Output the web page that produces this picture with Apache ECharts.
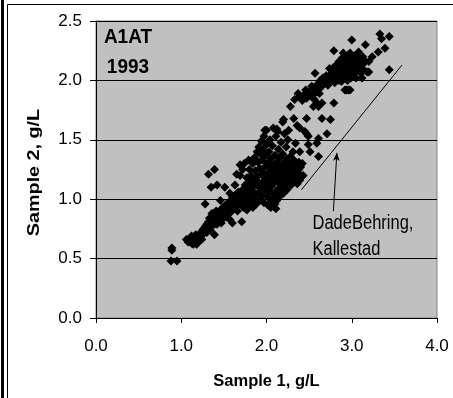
<!DOCTYPE html>
<html>
<head>
<meta charset="utf-8">
<script src="https://cdn.jsdelivr.net/npm/echarts@6/dist/echarts.min.js"></script>
<style>
html,body{margin:0;padding:0;background:#fff;}
#c{width:453px;height:398px;}
</style>
</head>
<body>
<div id="c"></div>
<script>
// Sample 1 vs Sample 2 (g/L), grouped by region of the cloud
const lowTail = [[0.89,0.59],[0.89,0.57],[0.88,0.48],[0.95,0.48],
[1.06,0.66],[1.08,0.64],[1.10,0.67],[1.12,0.63],[1.14,0.62],[1.15,0.68],[1.16,0.65],[1.18,0.66],[1.18,0.62],[1.20,0.64],[1.21,0.68],[1.22,0.71],[1.23,0.67],[1.24,0.73],[1.25,0.70],[1.26,0.75],[1.27,0.72],[1.28,0.77],[1.29,0.74],[1.28,0.96],
[1.12,0.69],[1.17,0.70],[1.24,0.66]];
const band = [[1.30,0.79],[1.31,0.76],[1.32,0.81],[1.33,0.78],[1.33,0.84],[1.34,0.80],[1.35,0.77],[1.36,0.83],[1.37,0.86],[1.38,0.81],[1.38,0.88],[1.39,0.79],[1.40,0.84],[1.39,0.70],[1.41,0.90],[1.42,0.86],[1.43,0.82],[1.44,0.88],[1.45,0.85],[1.46,0.91],[1.47,0.87],[1.48,0.83],[1.49,0.93],[1.50,0.89],[1.51,0.86],[1.52,0.95],[1.53,0.91],[1.54,0.88],[1.55,0.97],[1.56,0.93],[1.57,0.83],[1.58,0.99],[1.59,0.95],[1.60,1.02],[1.61,0.92],[1.62,1.00],[1.63,0.97],[1.64,1.04],[1.65,0.99],[1.66,0.95],[1.67,1.06],[1.68,1.01],[1.69,0.98],[1.71,0.81],[1.60,0.80],
[1.30,0.72],[1.34,0.74],[1.36,0.88],[1.42,0.79],[1.47,0.80],[1.53,0.85],[1.58,0.89],[1.62,0.94],[1.66,0.90],
[1.32,1.21],[1.39,1.25],[1.35,1.10],[1.42,1.12],[1.51,1.10],[1.46,0.99],[1.57,1.05],[1.63,1.12],[1.65,1.21],[1.69,1.20],[1.69,1.29],[1.74,1.30],[1.79,1.33],[1.72,1.25]];
const midLeft = [[1.70,1.03],[1.71,0.97],[1.72,1.08],[1.73,0.93],[1.74,1.01],[1.75,1.12],[1.75,0.96],[1.76,1.05],[1.77,0.91],[1.77,1.18],[1.78,1.00],[1.79,1.09],[1.79,0.94],[1.80,1.14],[1.80,1.25],[1.81,1.03],[1.82,0.97],[1.82,1.20],[1.83,1.10],[1.84,1.30],[1.84,0.93],[1.85,1.06],[1.85,1.16],[1.86,1.35],[1.86,1.00],[1.87,1.24],[1.88,1.12],[1.88,0.96],[1.89,1.40],[1.89,1.19],[1.90,1.05],[1.90,1.31],[1.91,1.44],[1.91,1.14],[1.92,0.99],[1.92,1.26],[1.93,1.38],[1.93,1.09],[1.94,1.49],[1.94,1.21],[1.95,1.03],[1.95,1.33],[1.96,1.15],[1.96,1.42],[1.97,1.53],[1.97,0.97],[1.98,1.27],[1.98,1.08],[1.99,1.37],[1.99,1.18],[1.98,1.58],
[1.88,1.04],[1.95,1.10],[1.96,1.22]];
const midCloud = [[2.00,1.58],[2.00,1.46],[2.00,1.12],[2.01,1.02],[2.01,1.30],[2.02,1.22],[2.02,0.95],[2.03,1.40],[2.03,1.16],[2.04,1.50],[2.04,1.07],[2.05,1.26],[2.05,1.34],[2.06,1.11],[2.06,0.99],[2.07,1.20],[2.07,1.45],[2.08,1.60],[2.08,1.29],[2.09,1.04],[2.09,1.14],[2.10,1.37],[2.10,1.23],[2.11,0.92],[2.11,1.53],[2.12,1.17],[2.12,1.31],[2.13,1.08],[2.13,1.57],[2.14,1.25],[2.14,1.42],[2.15,1.13],[2.15,1.02],[2.16,1.35],[2.16,1.20],[2.17,1.48],[2.17,1.28],[2.18,1.10],[2.18,1.16],[2.19,1.65],[2.19,1.38],[2.20,1.23],[2.20,1.05],[2.21,1.31],[2.21,1.55],[2.22,1.18],[2.22,1.12],[2.23,1.27],[2.23,1.44],[2.24,1.34],[2.24,1.08],[2.25,1.21],[2.25,1.50],[2.26,1.15],[2.26,1.30],[2.27,1.25],[2.28,1.19],[2.28,1.36],[2.29,1.12],[2.30,1.28],[2.30,1.22],[2.31,1.40],[2.32,1.15],[2.32,1.33],[2.33,1.24],[2.34,1.18],[2.35,1.29],[2.36,1.13],[2.37,1.22],[2.38,1.31],[2.39,1.16],[2.40,1.27],[2.42,1.30],[2.43,1.20],[2.12,0.99],[2.05,0.93],[2.10,0.96],
[2.02,1.06],[2.08,1.00],[2.14,1.06],[2.18,1.22],[2.22,1.24],[2.27,1.33],[2.30,1.18],[2.35,1.22],[2.38,1.25],[2.04,1.18],[2.10,1.28]];
const between = [[2.20,1.67],[2.32,1.68],[2.36,1.62],[2.26,1.58],[2.45,1.57],[2.47,1.68],[2.49,1.53],[2.39,1.60],[2.34,1.47],[2.39,1.40],[2.49,1.46],[2.51,1.40],[2.47,1.55],[2.59,1.47],[2.61,1.51],[2.61,1.36],[2.65,1.68],[2.71,1.55],[2.75,1.67],[2.79,1.81],[2.55,1.78],[2.61,1.78],[2.59,1.81],[2.65,1.81],[2.12,1.59],[2.28,1.78]];
const upperBranch = [[2.33,1.84],[2.37,1.89],[2.39,1.86],[2.42,1.83],[2.44,1.88],[2.47,1.85],[2.50,1.90],[2.52,1.87],[2.55,1.88],[2.57,2.06],[2.58,1.92],[2.60,1.97],[2.62,1.93],[2.63,2.00],[2.65,1.95],[2.66,2.02],[2.68,1.98],[2.70,2.04],[2.72,1.96],[2.73,2.01],
[2.46,1.92],[2.53,1.95],[2.56,1.84],[2.62,1.89],[2.70,1.99],[2.74,2.10]];
const topCluster = [[2.75,2.05],[2.76,2.00],[2.77,2.08],[2.78,2.03],[2.79,2.11],[2.80,1.98],[2.81,2.06],[2.82,2.13],[2.83,2.01],[2.84,2.09],[2.85,2.16],[2.86,2.04],[2.87,2.11],[2.88,1.99],[2.88,2.07],[2.89,2.19],[2.90,2.02],[2.90,2.23],[2.91,2.13],[2.92,2.08],[2.92,1.92],[2.93,2.17],[2.94,2.04],[2.95,2.11],[2.96,1.92],[2.96,2.21],[2.97,2.06],[2.98,2.14],[2.98,2.23],[2.99,2.02],[3.00,2.09],[3.00,2.34],[3.01,2.18],[3.02,2.05],[3.03,2.12],[3.04,2.21],[3.05,2.08],[3.06,2.15],[3.06,2.20],[3.08,2.24],[3.08,2.10],[3.10,2.17],[3.11,2.06],[3.12,2.13],[3.13,2.20],[3.14,2.09],[3.16,2.30],[3.16,2.16],[3.18,2.07],[3.20,2.16],[3.20,2.07],[3.24,2.20],[3.31,2.24],[3.39,2.27],[3.33,2.39],[3.35,2.35],[3.44,2.37],[3.44,2.09],[2.79,2.25],[2.94,1.92],[2.98,1.92],
[2.85,2.00],[2.95,2.00],[3.05,2.02],[3.12,2.02]];

// annotation line and arrow (data units)
const refLine = [[2.41,1.08],[3.59,2.13]];
const arrowLine = [[2.785,0.90],[2.825,1.39]];
const annotationText = 'DadeBehring,\nKallestad';
const titleText = 'A1AT\n1993';
const xAxisTitle = 'Sample 1, g/L';
const yAxisTitle = 'Sample 2, g/L';
const xTicks = [0, 1, 2, 3, 4];
const yTicks = [0, 0.5, 1, 1.5, 2, 2.5];

const allPoints = [].concat(lowTail, band, midLeft, midCloud, between, upperBranch, topCluster);

const chart = echarts.init(document.getElementById('c'), null, {renderer: 'canvas'});
const font = 'Liberation Sans, Arial, sans-serif';
chart.setOption({
  animation: false,
  backgroundColor: '#fff',
  grid: {left: 96, right: 16, top: 21, bottom: 80, show: true, backgroundColor: '#c0c0c0', borderColor: '#808080', borderWidth: 1},
  xAxis: {
    type: 'value', min: xTicks[0], max: xTicks[xTicks.length-1], interval: 1,
    name: xAxisTitle, nameLocation: 'middle', nameGap: 55,
    nameTextStyle: {fontFamily: font, fontWeight: 'bold', fontSize: 16.5, color: '#000'},
    axisLine: {lineStyle: {color: '#000', width: 1}},
    axisTick: {show: true, length: 5, lineStyle: {color: '#000'}},
    axisLabel: {fontFamily: font, fontSize: 17, color: '#000', margin: 20, formatter: v => v.toFixed(1)},
    splitLine: {show: false}
  },
  yAxis: {
    type: 'value', min: yTicks[0], max: yTicks[yTicks.length-1], interval: 0.5,
    axisLine: {show: true, lineStyle: {color: '#000', width: 1}},
    axisTick: {show: true, length: 6, lineStyle: {color: '#000'}},
    axisLabel: {fontFamily: font, fontSize: 17, color: '#000', margin: 14, formatter: v => v.toFixed(1)},
    splitLine: {show: true, lineStyle: {color: '#000', width: 1}}
  },
  series: [
    {
      type: 'scatter', data: allPoints, symbol: 'diamond', symbolSize: 9,
      itemStyle: {color: '#000', opacity: 1}, z: 3
    },
    {
      type: 'line', data: [],
      markLine: {
        silent: true, animation: false,
        label: {show: false},
        data: [
          [{coord: refLine[0], symbol: 'none'}, {coord: refLine[1], symbol: 'none'}],
          [{coord: arrowLine[0], symbol: 'none'}, {coord: arrowLine[1], symbol: 'arrow', symbolSize: [5, 8]}]
        ],
        lineStyle: {color: '#000', width: 1, type: 'solid'}
      }
    }
  ],
  graphic: [
    {type: 'rect', shape: {x: 1, y: 0, width: 3, height: 398}, style: {fill: '#000'}},
    {type: 'line', shape: {x1: 7.5, y1: 4.5, x2: 7.5, y2: 398}, style: {stroke: '#000', lineWidth: 1}},
    {type: 'line', shape: {x1: 7.5, y1: 4.5, x2: 453, y2: 4.5}, style: {stroke: '#000', lineWidth: 1}},
    {type: 'text', x: 128, y: 22.3, scaleY: 1.1, style: {text: titleText, fontFamily: font, fontWeight: 'bold', fontSize: 19, lineHeight: 27, fill: '#000', align: 'center'}, z: 10},
    {type: 'text', x: 312.5, y: 210, scaleY: 1.2, style: {text: annotationText, fontFamily: font, fontSize: 16.5, lineHeight: 22, fill: '#000'}, z: 10},
    {type: 'text', x: 34, y: 172.5, rotation: Math.PI / 2, scaleX: 1.19, style: {text: yAxisTitle, fontFamily: font, fontWeight: 'bold', fontSize: 16.6, fill: '#000', align: 'center', verticalAlign: 'middle'}, z: 10}
  ]
});
</script>
</body>
</html>
